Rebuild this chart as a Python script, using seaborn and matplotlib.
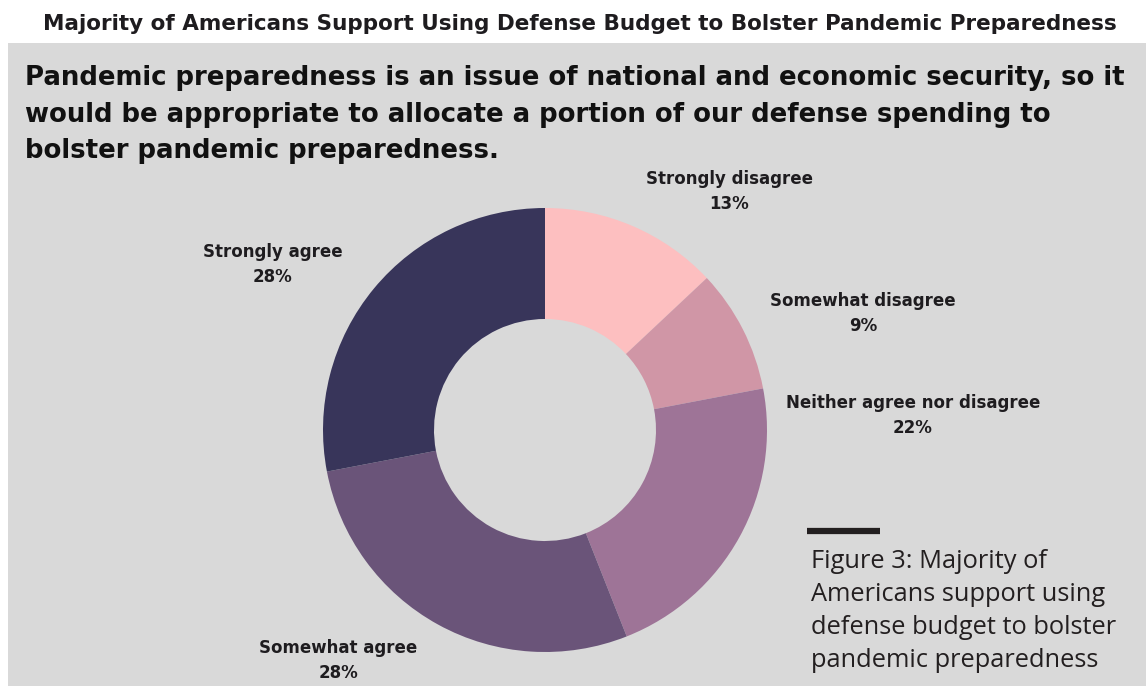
import matplotlib
matplotlib.use("Agg")
import matplotlib.pyplot as plt
from matplotlib.patches import Rectangle
import seaborn as sns

# Survey responses, clockwise from 12 o'clock
categories = ["Strongly disagree", "Somewhat disagree", "Neither agree nor disagree",
              "Somewhat agree", "Strongly agree"]
shares = [13, 9, 22, 28, 28]
colors = ["#fdbfc0", "#d096a6", "#9e7497", "#6a5479", "#38355a"]

title = "Majority of Americans Support Using Defense Budget to Bolster Pandemic Preparedness"
question_lines = [
    "Pandemic preparedness is an issue of national and economic security, so it",
    "would be appropriate to allocate a portion of our defense spending to",
    "bolster pandemic preparedness.",
]
caption_lines = [
    "Figure 3: Majority of",
    "Americans support using",
    "defense budget to bolster",
    "pandemic preparedness",
]

sns.set_theme(style="white")
plt.rcParams["font.family"] = ["DejaVu Sans"]

W, H = 1146, 686
INK = "#1e1c1f"
PANEL = "#d9d9d9"

fig = plt.figure(figsize=(W / 100, H / 100), dpi=100, facecolor="white")


def fx(px):
    return px / W


def fy(py):
    return 1 - py / H


# grey panel behind the chart
fig.patches.append(Rectangle((fx(8), 0), 1, fy(43), transform=fig.transFigure,
                             facecolor=PANEL, edgecolor="none", zorder=-10))

# donut
cx, cy, r = 545, 430, 222
pad = 1.1
side = 2 * r * pad
ax = fig.add_axes([fx(cx - side / 2), fy(cy + side / 2), side / W, side / H])
ax.set_facecolor("none")
ax.set_zorder(5)
ax.pie(shares, colors=colors, startangle=90, counterclock=False, radius=1,
       wedgeprops=dict(width=0.5, edgecolor="none", linewidth=0))
ax.set_xlim(-pad, pad)
ax.set_ylim(-pad, pad)
ax.set_aspect("equal")
ax.axis("off")

# header above the panel
fig.text(fx(580), fy(30), title, ha="center", va="baseline", fontsize=15.5,
         fontweight="bold", color=INK)

# survey statement
for line, base in zip(question_lines, [85, 122, 158]):
    fig.text(fx(25), fy(base), line, ha="left", va="baseline", fontsize=18.7,
             fontweight="heavy", color="#111111")

# slice labels: name on first line, share below
label_pos = {
    "Strongly disagree": (729, 184),
    "Somewhat disagree": (863, 306),
    "Neither agree nor disagree": (913, 408),
    "Somewhat agree": (338, 653),
    "Strongly agree": (273, 257),
}
for cat, val in zip(categories, shares):
    x, base = label_pos[cat]
    fig.text(fx(x), fy(base), cat, ha="center", va="baseline", fontsize=12,
             fontweight="bold", color=INK)
    fig.text(fx(x), fy(base + 25), f"{val}%", ha="center", va="baseline",
             fontsize=12, fontweight="bold", color=INK)

# caption block with a short rule above it
fig.add_artist(plt.Line2D([fx(807), fx(880)], [fy(531), fy(531)], color="#231f20",
                          linewidth=4.5, transform=fig.transFigure, solid_capstyle="butt"))
for i, line in enumerate(caption_lines):
    fig.text(fx(811), fy(568 + 33 * i), line, ha="left", va="baseline", fontsize=18.3,
             color="#231f20", family=["Open Sans", "DejaVu Sans"])

fig.savefig("out.png", dpi=100, facecolor="white")
